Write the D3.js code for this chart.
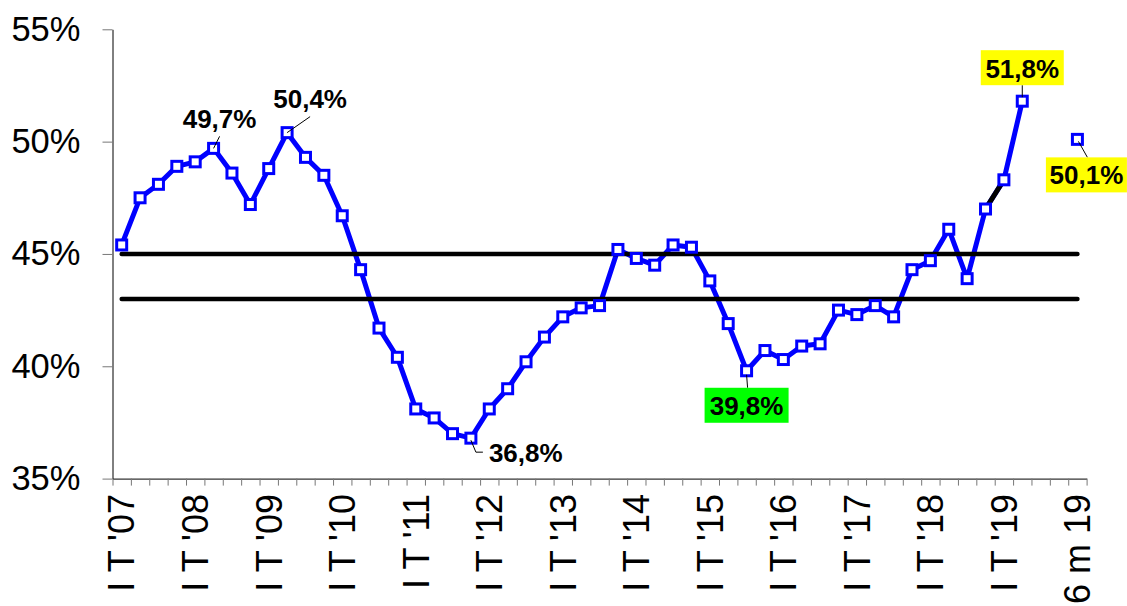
<!DOCTYPE html>
<html><head><meta charset="utf-8">
<script src="https://cdn.jsdelivr.net/npm/d3@7"></script>
<style>body{margin:0;background:#fff} svg{display:block}</style>
</head><body><svg id="c" width="1127" height="606"></svg>
<script>
const categories = [
  "I T '07","II T '07","III T '07","IV T '07",
  "I T '08","II T '08","III T '08","IV T '08",
  "I T '09","II T '09","III T '09","IV T '09",
  "I T '10","II T '10","III T '10","IV T '10",
  "I T '11","II T '11","III T '11","IV T '11",
  "I T '12","II T '12","III T '12","IV T '12",
  "I T '13","II T '13","III T '13","IV T '13",
  "I T '14","II T '14","III T '14","IV T '14",
  "I T '15","II T '15","III T '15","IV T '15",
  "I T '16","II T '16","III T '16","IV T '16",
  "I T '17","II T '17","III T '17","IV T '17",
  "I T '18","II T '18","III T '18","IV T '18",
  "I T '19","II T '19","","","6 m 19"
];
const values = [
  45.4, 47.5, 48.1, 48.9,
  49.1, 49.7, 48.6, 47.2,
  48.8, 50.4, 49.3, 48.5,
  46.7, 44.3, 41.7, 40.4,
  38.1, 37.7, 37.0, 36.8,
  38.1, 39.0, 40.2, 41.3,
  42.2, 42.6, 42.7, 45.2,
  44.8, 44.5, 45.4, 45.3,
  43.8, 41.9, 39.8, 40.7,
  40.3, 40.9, 41.0, 42.5,
  42.3, 42.7, 42.2, 44.3,
  44.7, 46.1, 43.9, 47.0,
  48.3, 51.8, null, null, 50.1
];
const tickLabels = ["I T '07","I T '08","I T '09","I T '10","I T '11","I T '12","I T '13",
  "I T '14","I T '15","I T '16","I T '17","I T '18","I T '19","6 m 19"];
const yTicks = [35, 40, 45, 50, 55];
const refLines = [45, 43];
const blackSegment = ["IV T '18", "I T '19"];
const annotationCats = ["II T '08", "II T '09", "IV T '11", "III T '15", "II T '19", "6 m 19"];
const annotationTexts = ["49,7%", "50,4%", "36,8%", "39,8%", "51,8%", "50,1%"];

// ---- layout / style ----
const FONT = "Arial, 'Liberation Sans', sans-serif";
const svg = d3.select("#c");
const n = categories.length;
const xL = 112.5, xR = 1086.6, yT = 29.3, yB = 478.6;
const x = d3.scaleLinear().domain([0, n]).range([xL, xR]);
const cx = i => x(i + 0.5);
const y = d3.scaleLinear().domain([35, 55]).range([yB, yT]);
const pts = values.map((v, i) => ({i, v}));

// axes
const ya = svg.append("g").attr("transform", `translate(${xL},0)`)
  .call(d3.axisLeft(y).tickValues(yTicks).tickSize(10).tickSizeOuter(0).tickPadding(22).tickFormat(d => d + "%"));
ya.select(".domain").attr("stroke", "#000");
ya.selectAll(".tick line").attr("stroke", "#777");
ya.selectAll(".tick text").attr("font-family", FONT).attr("font-size", 34.5).attr("fill", "#000");

const xa = svg.append("g").attr("transform", `translate(0,${yB})`)
  .call(d3.axisBottom(x).tickValues(d3.range(0, n + 1)).tickSize(7).tickSizeOuter(0).tickFormat(""));
xa.select(".domain").attr("stroke", "#000");
xa.selectAll(".tick line").attr("stroke", "#777");

svg.append("g").selectAll("text")
  .data(categories.map((c, i) => ({c, i})).filter(d => tickLabels.includes(d.c)))
  .join("text")
  .attr("transform", d => `translate(${cx(d.i) + 12.8},494) rotate(-90)`)
  .attr("text-anchor", "end")
  .attr("font-family", FONT).attr("font-size", 36).attr("fill", "#000")
  .text(d => d.c);

// series line
const line = d3.line().defined(d => d.v != null).x(d => cx(d.i)).y(d => y(d.v));
svg.append("path").datum(pts).attr("d", line)
  .attr("fill", "none").attr("stroke", "#0000ff").attr("stroke-width", 5)
  .attr("stroke-linejoin", "round");
const bs = blackSegment.map(c => categories.indexOf(c));
svg.append("path").datum(pts.filter(d => bs.includes(d.i))).attr("d", line)
  .attr("fill", "none").attr("stroke", "#000").attr("stroke-width", 5);

// reference lines
svg.append("g").selectAll("line").data(refLines).join("line")
  .attr("x1", cx(0)).attr("x2", cx(n - 1))
  .attr("y1", d => y(d)).attr("y2", d => y(d))
  .attr("stroke", "#000").attr("stroke-width", 4.5).attr("stroke-linecap", "round");

// markers
const ms = 10;
svg.append("g").selectAll("rect").data(pts.filter(d => d.v != null)).join("rect")
  .attr("x", d => cx(d.i) - ms / 2).attr("y", d => y(d.v) - ms / 2)
  .attr("width", ms).attr("height", ms)
  .attr("fill", "#fff").attr("stroke", "#0000ff").attr("stroke-width", 3);

// annotations (layout per label)
const annLayout = [
  {dx: 6,  dy: -20, box: null, lead: [[6, -12], [0, 0]]},
  {dx: 23, dy: -25, box: null, lead: [[23, -16], [0, 0]]},
  {dx: 54, dy: 24,  box: null, lead: [[0, 2], [5, 14], [12, 14]], anchorStart: true},
  {dx: 0,  dy: 44,  box: {top: 17, h: 35, w: 84, fill: "#00ff00"}, lead: [[0, 4], [1, 17]]},
  {dx: 0,  dy: -23, box: {top: -51, h: 35, w: 83, fill: "#ffff00"}, lead: [[0, -4], [0, -16]]},
  {dx: 9,  dy: 45,  box: {top: 18, h: 35, w: 81, fill: "#ffff00"}, lead: [[1, 2], [10, 18]]}
];
const ag = svg.append("g");
annotationCats.forEach((c, k) => {
  const i = categories.indexOf(c);
  const px = cx(i), py = y(values[i]);
  const L = annLayout[k];
  ag.append("path")
    .attr("d", d3.line()(L.lead.map(p => [px + p[0], py + p[1]])))
    .attr("fill", "none").attr("stroke", "#000").attr("stroke-width", 1);
  if (L.box) {
    ag.append("rect").attr("x", px + L.dx - L.box.w / 2).attr("y", py + L.box.top)
      .attr("width", L.box.w).attr("height", L.box.h).attr("fill", L.box.fill);
  }
  const t = ag.append("text")
    .attr("font-family", FONT).attr("font-size", 26).attr("font-weight", "bold").attr("fill", "#000")
    .attr("y", py + L.dy).text(annotationTexts[k]);
  if (L.anchorStart) t.attr("x", px + 18).attr("text-anchor", "start");
  else t.attr("x", px + L.dx).attr("text-anchor", "middle");
});
</script></body></html>
